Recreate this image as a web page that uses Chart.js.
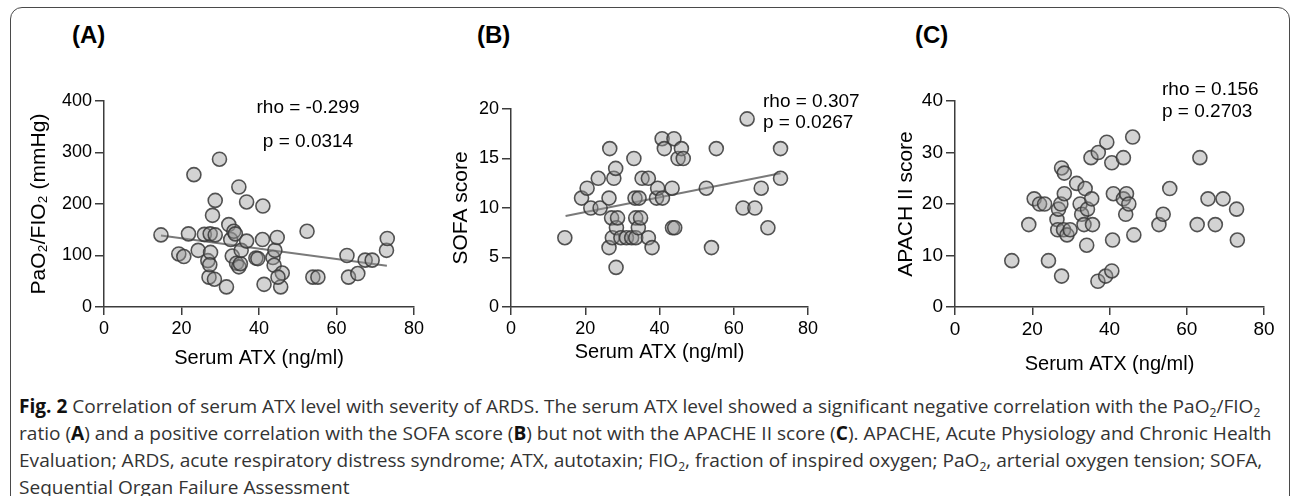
<!DOCTYPE html>
<html>
<head>
<meta charset="utf-8">
<script src="https://cdn.jsdelivr.net/npm/chart.js@4.4.1/dist/chart.umd.min.js"></script>
<style>
    html, body { margin: 0; padding: 0; background: #ffffff; }
    #pagina { position: relative; width: 1292px; height: 496px; overflow: hidden; font-family: "Liberation Sans", Arial, sans-serif; }
    #moldura { position: absolute; left: 10px; top: 7px; width: 1278px; height: 520px; border: 1.5px solid #4a4a4a; border-radius: 12px; }
    canvas { position: absolute; }
    .painel { position: absolute; font-weight: bold; font-size: 24px; line-height: 24px; color: #000; }
    #legenda { position: absolute; left: 19px; top: 393px; font-family: "Liberation Sans Narrow", "Open Sans", sans-serif; font-size: 19px; line-height: 27px; color: #333; white-space: nowrap; transform-origin: 0 0; }
    #legenda div { white-space: nowrap; height: 27px; }
    #legenda sub { font-size: 12px; line-height: 0; vertical-align: -4px; }
    #legenda b { color: #111; }
</style>
</head>
<body>
<div id="pagina">
    <div id="moldura"></div>
    <div class="painel" style="left:72px; top:23px;">(A)</div>
    <div class="painel" style="left:477px; top:23px;">(B)</div>
    <div class="painel" style="left:915px; top:23px;">(C)</div>

    <canvas id="graficoA" width="430" height="320" style="left:0px; top:60px;"></canvas>
    <canvas id="graficoB" width="430" height="320" style="left:430px; top:60px;"></canvas>
    <canvas id="graficoC" width="432" height="320" style="left:860px; top:60px;"></canvas>

    <div id="legenda">
        <div><b>Fig. 2</b> Correlation of serum ATX level with severity of ARDS. The serum ATX level showed a significant negative correlation with the PaO<sub>2</sub>/FIO<sub>2</sub></div>
        <div id="linhaLarga">ratio (<b>A</b>) and a positive correlation with the SOFA score (<b>B</b>) but not with the APACHE II score (<b>C</b>). APACHE, Acute Physiology and Chronic Health</div>
        <div>Evaluation; ARDS, acute respiratory distress syndrome; ATX, autotaxin; FIO<sub>2</sub>, fraction of inspired oxygen; PaO<sub>2</sub>, arterial oxygen tension; SOFA,</div>
        <div>Sequential Organ Failure Assessment</div>
    </div>
</div>

<script>
// valores
const atxA = [14.7, 19.3, 20.6, 21.8, 23.2, 24.3, 25.9, 26.8, 27.1, 27.4, 27.5, 27.3, 28.0, 28.7, 28.7, 28.5, 29.8, 31.6, 32.2, 32.7, 33.1, 33.5, 33.9, 34.2, 34.8, 35.2, 34.8, 35.4, 36.8, 36.8, 39.2, 39.7, 41.0, 40.9, 41.3, 43.6, 43.9, 44.1, 44.7, 45.6, 46.0, 44.9, 52.4, 53.9, 55.2, 62.7, 63.1, 65.5, 67.4, 69.2, 72.9, 73.1];
const pafA = [140, 103, 98, 142, 257, 110, 141, 90, 58, 142, 106, 82, 178, 207, 140, 54, 287, 39, 160, 131, 99, 147, 142, 85, 78, 84, 233, 110, 204, 128, 95, 94, 196, 131, 44, 96, 81, 110, 135, 39, 66, 58, 147, 58, 58, 100, 58, 65, 91, 91, 110, 133];

const atxB = [14.5, 19, 20.5, 21.5, 23.5, 24, 26.4, 26.6, 26.4, 27.1, 27.3, 27.7, 28.2, 28.4, 28.7, 28.3, 29.6, 31.1, 32.5, 33.1, 33.4, 33.6, 33.6, 34.3, 34.5, 34.9, 35.3, 37, 37, 39.2, 39.5, 38, 40.8, 40.7, 41.3, 43.4, 43.9, 43.5, 44.1, 45, 45.9, 46.4, 52.6, 54, 55.3, 62.5, 63.6, 65.7, 67.4, 69.2, 72.6, 72.6];
const sofaB = [7, 11, 12, 10, 13, 10, 11, 16, 6, 9, 7, 13, 14, 8, 9, 4, 7, 7, 7, 15, 11, 7, 9, 8, 11, 9, 13, 13, 7, 11, 12, 6, 11, 17, 16, 12, 17, 8, 8, 15, 16, 15, 12, 6, 16, 10, 19, 10, 12, 8, 13, 16];

const atxC = [14.7, 19.1, 20.5, 21.9, 23.2, 24.2, 26.4, 26.6, 26.8, 27.4, 27.6, 28.3, 27.6, 28.1, 28.3, 29, 29.8, 31.5, 32.4, 32.8, 33.4, 33.7, 34.1, 34.3, 35.2, 35.4, 35.6, 37.1, 37, 39.3, 39, 40.6, 40.6, 40.8, 41, 43.6, 43.6, 44.2, 44.4, 45, 46, 46.3, 52.8, 53.9, 55.6, 62.7, 63.4, 65.5, 67.4, 69.4, 72.9, 73.1];
const apacheC = [9, 16, 21, 20, 20, 9, 17, 15, 19, 20, 27, 26, 6, 15, 22, 14, 15, 24, 20, 18, 16, 23, 12, 19, 29, 21, 16, 30, 5, 32, 6, 7, 28, 13, 22, 29, 21, 18, 22, 20, 33, 14, 16, 18, 23, 16, 29, 21, 16, 21, 19, 13];

// rectas de regressao (extremos)
const retaAX = [14.7, 73];
const retaAY = [139, 80];
const retaBX = [14.7, 72.6];
const retaBY = [9.2, 13.5];

const ticksX = [0, 20, 40, 60, 80];
const tituloX = "Serum ATX (ng/ml)";

const corTexto = "#000000";
const corEixo = "#3c3c3c";

function pares(xs, ys) {
    return xs.map(function (x, i) {
        return { x: x, y: ys[i] };
    });
}

const pluginTextos = {
    id: "textos",
    afterDraw: function (chart, args, opts) {
        const ctx = chart.ctx;
        ctx.save();
        ctx.fillStyle = corTexto;
        ctx.font = opts.fonte || "19px 'Liberation Sans', Arial, sans-serif";
        ctx.textAlign = opts.alinhar || "left";
        ctx.textBaseline = "middle";
        opts.linhas.forEach(function (linha, i) {
            ctx.fillText(linha, opts.x, opts.y + i * opts.passo);
        });
        ctx.restore();
    }
};

function criarGrafico(id, cfg) {
    const datasets = [{
        type: "scatter",
        data: pares(cfg.xs, cfg.ys),
        backgroundColor: "rgba(150, 150, 150, 0.42)",
        borderColor: "rgba(55, 55, 55, 0.85)",
        borderWidth: 1.6,
        pointRadius: 7,
        order: 1
    }];

    if (cfg.retaX) {
        datasets.push({
            type: "line",
            data: pares(cfg.retaX, cfg.retaY),
            borderColor: "#7a7a7a",
            borderWidth: 2,
            pointRadius: 0,
            fill: false,
            order: 2
        });
    }

    return new Chart(document.getElementById(id), {
        type: "scatter",
        data: { datasets: datasets },
        plugins: [pluginTextos],
        options: {
            responsive: false,
            animation: false,
            devicePixelRatio: 1,
            layout: { padding: cfg.padding },
            plugins: {
                legend: { display: false },
                tooltip: { enabled: false },
                textos: cfg.textos
            },
            scales: {
                x: {
                    type: "linear",
                    min: 0,
                    max: 80,
                    afterBuildTicks: function (scale) {
                        scale.ticks = ticksX.map(function (v) { return { value: v }; });
                    },
                    afterFit: function (scale) { scale.height = cfg.alturaX; },
                    grid: { drawOnChartArea: false, tickLength: 8, color: corEixo, lineWidth: 1.5 },
                    border: { color: corEixo, width: 1.5 },
                    ticks: { color: corTexto, padding: 3, font: { family: "'Liberation Sans', Arial", size: cfg.fonteTicks } },
                    title: {
                        display: true,
                        text: tituloX,
                        color: corTexto,
                        padding: 0,
                        font: { family: "'Liberation Sans', Arial", size: 20 }
                    }
                },
                y: {
                    type: "linear",
                    min: 0,
                    max: cfg.maxY,
                    ticks: { stepSize: cfg.passoY, color: corTexto, padding: 3, font: { family: "'Liberation Sans', Arial", size: cfg.fonteTicks } },
                    afterFit: function (scale) { scale.width = cfg.larguraY; },
                    grid: { drawOnChartArea: false, tickLength: 9, color: corEixo, lineWidth: 1.5 },
                    border: { color: corEixo, width: 1.5 },
                    title: {
                        display: true,
                        text: cfg.tituloY,
                        color: corTexto,
                        padding: 0,
                        font: { family: "'Liberation Sans', Arial", size: 21 }
                    }
                }
            }
        }
    });
}

criarGrafico("graficoA", {
    xs: atxA, ys: pafA, retaX: retaAX, retaY: retaAY,
    maxY: 400, passoY: 100, tituloY: "PaO\u2082/FIO\u2082 (mmHg)",
    padding: { left: 27, top: 41, right: 16, bottom: 10 },
    larguraY: 77, alturaX: 63, fonteTicks: 18,
    textos: { linhas: ["rho = -0.299", "p = 0.0314"], x: 308, y: 48, passo: 34, alinhar: "center" }
});

criarGrafico("graficoB", {
    xs: atxB, ys: sofaB, retaX: retaBX, retaY: retaBY,
    maxY: 20, passoY: 5, tituloY: "SOFA score",
    padding: { left: 19, top: 49, right: 52, bottom: 16 },
    larguraY: 62, alturaX: 57, fonteTicks: 18,
    textos: { linhas: ["rho = 0.307", "p = 0.0267"], x: 333, y: 42, passo: 21, alinhar: "left" }
});

criarGrafico("graficoC", {
    xs: atxC, ys: apacheC,
    maxY: 40, passoY: 10, tituloY: "APACH II score",
    padding: { left: 34, top: 41, right: 28, bottom: 4 },
    larguraY: 61, alturaX: 69, fonteTicks: 19,
    textos: { linhas: ["rho = 0.156", "p = 0.2703"], x: 302, y: 30, passo: 22, alinhar: "left" }
});

// ajustar a largura da legenda ao original (fonte condensada)
const legenda = document.getElementById("legenda");
const linhaLarga = document.getElementById("linhaLarga");
const escala = 1253 / linhaLarga.scrollWidth;
legenda.style.transform = "scaleX(" + escala + ")";
</script>
</body>
</html>
